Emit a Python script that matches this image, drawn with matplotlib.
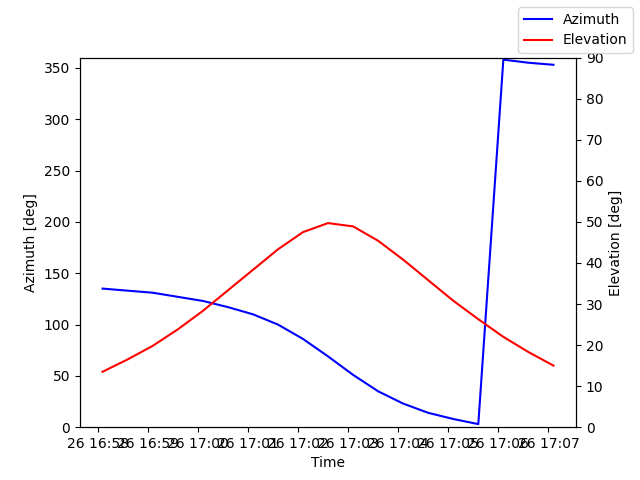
import matplotlib
matplotlib.use("Agg")
import matplotlib.pyplot as plt
import matplotlib.dates as mdates
import pandas as pd

times = pd.date_range("2024-01-26 16:58:06", periods=19, freq="30s")
azimuth = [135, 133, 131, 127, 123, 117, 110, 100, 86, 69, 51, 35, 23, 14, 8, 3, 358, 355, 353]
elevation = [13.5, 16.5, 19.8, 23.8, 28.3, 33.3, 38.3, 43.3, 47.5, 49.7, 48.9, 45.4, 40.8, 35.8, 30.8, 26.3, 22.0, 18.3, 15.0]

fig, ax = plt.subplots(figsize=(6.4, 4.8), dpi=100)
l1, = ax.plot(times, azimuth, color="blue", label="Azimuth")
ax.set_ylim(0, 360)
ax.set_ylabel("Azimuth [deg]")
ax.set_xlabel("Time")
ax2 = ax.twinx()
l2, = ax2.plot(times, elevation, color="red", label="Elevation")
ax2.set_ylim(0, 90)
ax2.set_ylabel("Elevation [deg]")
ax.xaxis.set_major_locator(mdates.MinuteLocator())
ax.xaxis.set_major_formatter(mdates.DateFormatter("%d %H:%M"))
fig.legend(handles=[l1, l2], loc="upper right")
fig.savefig("out.png")
